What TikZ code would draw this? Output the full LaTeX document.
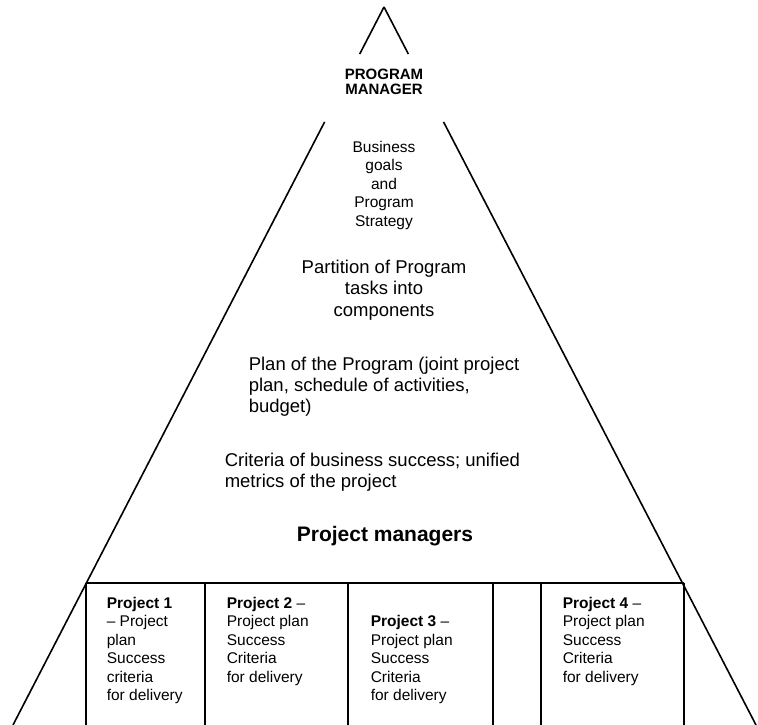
\documentclass[tikz,border=0pt]{standalone}
\usepackage{fontspec}
\setmainfont{Liberation Sans}
\usetikzlibrary{calc}
\begin{document}
\begin{tikzpicture}[x=1pt, y=-1pt, line width=1.6pt,
  body/.style={inner sep=0pt, font=\fontsize{18.5}{21.3}\selectfont},
  small/.style={inner sep=0pt, font=\fontsize{15.5}{18.5}\selectfont},
  boxtext/.style={inner sep=0pt, anchor=base west, align=left, font=\fontsize{15.5}{18.5}\selectfont},
  edge/.style={draw=black, line width=1.6pt}]
\useasboundingbox (0,0) rectangle (758,725);

% outline of the pyramid
\coordinate (apex) at (384,7);
\coordinate (lbase) at (13,725);
\coordinate (rbase) at (756,725);
\draw[edge] (apex) -- ($(apex)!0.0655!(lbase)$);
\draw[edge] (apex) -- ($(apex)!0.0655!(rbase)$);
\draw[edge] ($(apex)!0.160!(lbase)$) -- (lbase);
\draw[edge] ($(apex)!0.160!(rbase)$) -- (rbase);

% head of the pyramid (base anchors sit on the last line of each block)
\node[inner sep=0pt, anchor=base, align=center,
  font=\fontsize{15}{15.5}\selectfont\bfseries] (head) at (384,95)
  {PROGRAM\\MANAGER};

% levels of the program
\node[small, anchor=base, align=center] (goals) at (384,226)
  {Business\\goals\\and\\Program\\Strategy};
\node[body, anchor=base, align=center] (partition) at (384,316)
  {Partition of Program\\tasks into\\components};
\node[body, anchor=base west, align=left] (plan) at (248,412.7)
  {Plan of the Program (joint project\\plan, schedule of activities,\\budget)};
\node[body, anchor=base west, align=left] (criteria) at (224,487.5)
  {Criteria of business success; unified\\metrics of the project};
\node[inner sep=0pt, anchor=base, font=\fontsize{21}{24}\selectfont\bfseries]
  (managers) at (385,541) {Project managers};

% project columns
\coordinate (c0) at (86,583);
\coordinate (c1) at (205,583);
\coordinate (c2) at (348,583);
\coordinate (c3) at (493,583);
\coordinate (c4) at (541,583);
\coordinate (c5) at (684,583);
\draw[edge] (c0) -- (c5);
\foreach \c in {c0,c1,c2,c3,c4,c5}
  \draw[edge] (\c) -- (\c |- lbase);

\node[boxtext] (p1) at (106,700.5)
  {\textbf{Project 1}\\– Project\\plan\\Success\\criteria\\for delivery};
\node[boxtext] (p2) at (226,682)
  {\textbf{Project 2} –\\Project plan\\Success\\Criteria\\for delivery};
\node[boxtext] (p3) at (370,700.5)
  {\textbf{Project 3} –\\Project plan\\Success\\Criteria\\for delivery};
\node[boxtext] (p4) at (562,682)
  {\textbf{Project 4} –\\Project plan\\Success\\Criteria\\for delivery};
\end{tikzpicture}
\end{document}
